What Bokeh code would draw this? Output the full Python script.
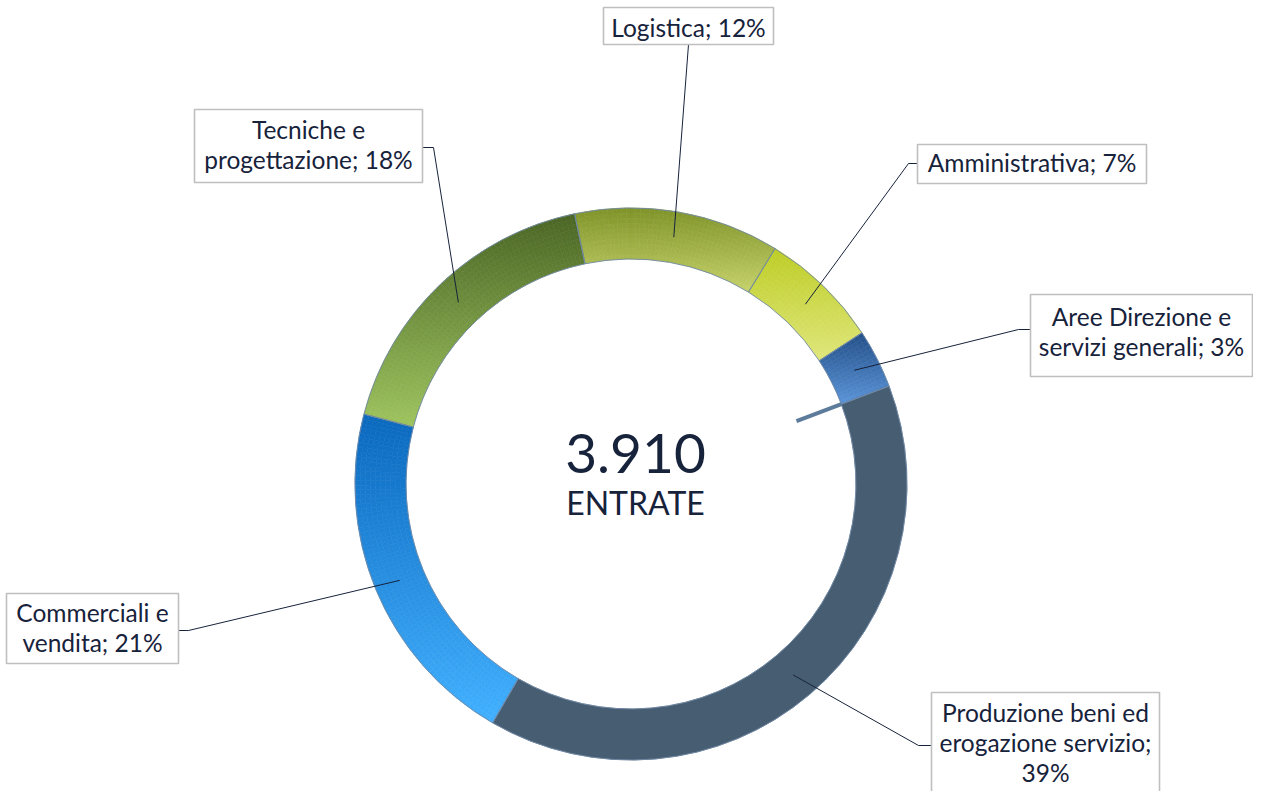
import numpy as np
from bokeh.plotting import figure
from bokeh.models import Range1d
from bokeh.embed import file_html
from bokeh.resources import INLINE
from bokeh.core.properties import value

# ---------------- data ----------------
categories = ["Logistica", "Amministrativa", "Aree Direzione e servizi generali",
              "Produzione beni ed erogazione servizio", "Commerciali e vendita",
              "Tecniche e progettazione"]
values = [470, 275, 135, 1530, 810, 690]
label_lines = [["Logistica"], ["Amministrativa"], ["Aree Direzione e", "servizi generali"],
               ["Produzione beni ed", "erogazione servizio"], ["Commerciali e", "vendita"],
               ["Tecniche e", "progettazione"]]
pct_on_own_line = [False, False, False, True, False, False]
center_value = "3.910"
center_caption = "ENTRATE"

color_top = ["#7f9329", "#bdcd25", "#234f88", "#475d72", "#0a68bd", "#4a6524"]
color_bottom = ["#c6d26a", "#dfe67a", "#5a94d8", "#475d72", "#41b0ff", "#9ec45e"]

# ---------------- layout (screen px, origin top-left) ----------------
W, H = 1253, 791
SCREEN_H = 807


def sy(y):
    return SCREEN_H - y


CX, CY = 630.5, sy(483.5)
R_OUT, R_IN = 276.0, 225.0
START = -11.8  # degrees clockwise from 12 o'clock

# label boxes: left, top, right, bottom (screen)
box_l = [603, 917, 1030, 931, 6, 194]
box_t = [7, 144, 294, 692, 593, 109]
box_r = [773, 1146, 1252, 1159, 178, 422]
box_b = [44, 183, 376, 830, 663, 182]
first_base = [37, 172, 326, 722, 622, 139]
line_step = 30
# leader attach on box and elbow
lead_start = [(688, 44), (917, 163), (1030, 329), (931, 745), (178, 630), (422, 147)]
lead_elbow = [None, (908, 163), (1018, 329), (918, 745), (188, 630), (433, 147)]

TXT = "#17223b"
FONT = value("Lato")
FS_LABEL = 24.5
FS_BIG = 55
FS_CAP = 32
BASE_K = 0.39  # baseline correction factor for the renderer


def base(y, fs):
    return sy(y - BASE_K * fs)


p = figure(width=W, height=H, x_range=Range1d(0, W), y_range=Range1d(SCREEN_H - H, SCREEN_H),
           output_backend="svg", toolbar_location=None, min_border=0,
           outline_line_color=None, background_fill_color="white")
p.axis.visible = False
p.grid.visible = False


def hex2rgb(h):
    h = h.lstrip("#")
    return np.array([int(h[i:i + 2], 16) for i in (0, 2, 4)], dtype=float)


def rgb2hex(c):
    c = np.clip(np.round(c), 0, 255).astype(int)
    return "#%02x%02x%02x" % tuple(c)


total = float(sum(values))
fr = np.array(values) / total
cum = np.concatenate([[0], np.cumsum(fr)])
th0s = START + 360 * cum[:-1]
th1s = START + 360 * cum[1:]

# gradient cells (vertical linear gradient inside each slice's bounding box)
cx_, cy_, ri_, ro_, sa_, ea_, col_ = [], [], [], [], [], [], []
for i in range(len(values)):
    t0, t1 = th0s[i], th1s[i]
    ts = np.radians(np.linspace(t0, t1, 300))
    yy = np.concatenate([CY + R_OUT * np.cos(ts), CY + R_IN * np.cos(ts)])
    ytop, ybot = yy.max(), yy.min()
    ctop, cbot = hex2rgb(color_top[i]), hex2rgb(color_bottom[i])
    flat = color_top[i] == color_bottom[i]
    nang = 1 if flat else int(np.ceil((t1 - t0) / 1.0))
    K = 1 if flat else 10
    angs = np.linspace(t0, t1, nang + 1)
    rads = np.linspace(R_IN, R_OUT, K + 1)
    for a in range(nang):
        am = np.radians((angs[a] + angs[a + 1]) / 2)
        for k in range(K):
            rm = (rads[k] + rads[k + 1]) / 2
            y = CY + rm * np.cos(am)
            tt = (ytop - y) / (ytop - ybot)
            cx_.append(CX); cy_.append(CY)
            ri_.append(rads[k]); ro_.append(rads[k + 1])
            sa_.append(np.radians(90 - angs[a + 1]))
            ea_.append(np.radians(90 - angs[a]))
            col_.append(rgb2hex(ctop + (cbot - ctop) * tt))

p.annular_wedge(x=cx_, y=cy_, inner_radius=ri_, outer_radius=ro_,
                start_angle=sa_, end_angle=ea_, fill_color=col_, line_color=col_,
                line_width=0.6)

# slice outlines
p.annular_wedge(x=[CX] * len(values), y=[CY] * len(values), inner_radius=R_IN,
                outer_radius=R_OUT, start_angle=list(np.radians(90 - th1s)),
                end_angle=list(np.radians(90 - th0s)), fill_alpha=0,
                line_color="#7089a6", line_width=0.9)

# small stray leader artifact at Aree/Produzione boundary
tb = np.radians(th1s[2])
p.segment(x0=[CX + 177 * np.sin(tb)], y0=[CY + 177 * np.cos(tb)],
          x1=[CX + R_IN * np.sin(tb)], y1=[CY + R_IN * np.cos(tb)],
          line_color="#5d7b9a", line_width=4)

# leader lines
mid = np.radians((th0s + th1s) / 2)
RM = (R_IN + R_OUT) / 2
lx, ly = [], []
for i in range(len(values)):
    ex, ey = CX + RM * np.sin(mid[i]), CY + RM * np.cos(mid[i])
    xs = [lead_start[i][0]]
    ys = [sy(lead_start[i][1])]
    if lead_elbow[i] is not None:
        xs.append(lead_elbow[i][0]); ys.append(sy(lead_elbow[i][1]))
    xs.append(ex); ys.append(ey)
    lx.append(xs); ly.append(ys)
p.multi_line(xs=lx, ys=ly, line_color=TXT, line_width=1)

# label boxes
p.quad(left=box_l, right=box_r, top=[sy(v) for v in box_t], bottom=[sy(v) for v in box_b],
       fill_color="white", line_color="#bfbfbf", line_width=1.6)

# label text
tx, ty, tt_ = [], [], []
for i in range(len(values)):
    pct = "%d%%" % round(fr[i] * 100)
    lines = list(label_lines[i])
    if pct_on_own_line[i]:
        lines[-1] = lines[-1] + ";"
        lines.append(pct)
    else:
        lines[-1] = lines[-1] + "; " + pct
    cxb = (box_l[i] + box_r[i]) / 2
    for j, s in enumerate(lines):
        tx.append(cxb); ty.append(base(first_base[i] + j * line_step, FS_LABEL)); tt_.append(s)
p.text(x=tx, y=ty, text=tt_, text_font=FONT, text_font_size="%spx" % FS_LABEL,
       text_color=TXT, text_align="center", text_baseline="alphabetic")

# center text
p.text(x=[635], y=[base(474, FS_BIG)], text=[center_value], text_font=FONT,
       text_font_size="%dpx" % FS_BIG, text_color=TXT, text_align="center",
       text_baseline="alphabetic")
p.text(x=[635], y=[base(514, FS_CAP)], text=[center_caption], text_font=FONT,
       text_font_size="%dpx" % FS_CAP, text_color=TXT, text_align="center",
       text_baseline="alphabetic")

open("out.html", "w").write(file_html(p, INLINE))
